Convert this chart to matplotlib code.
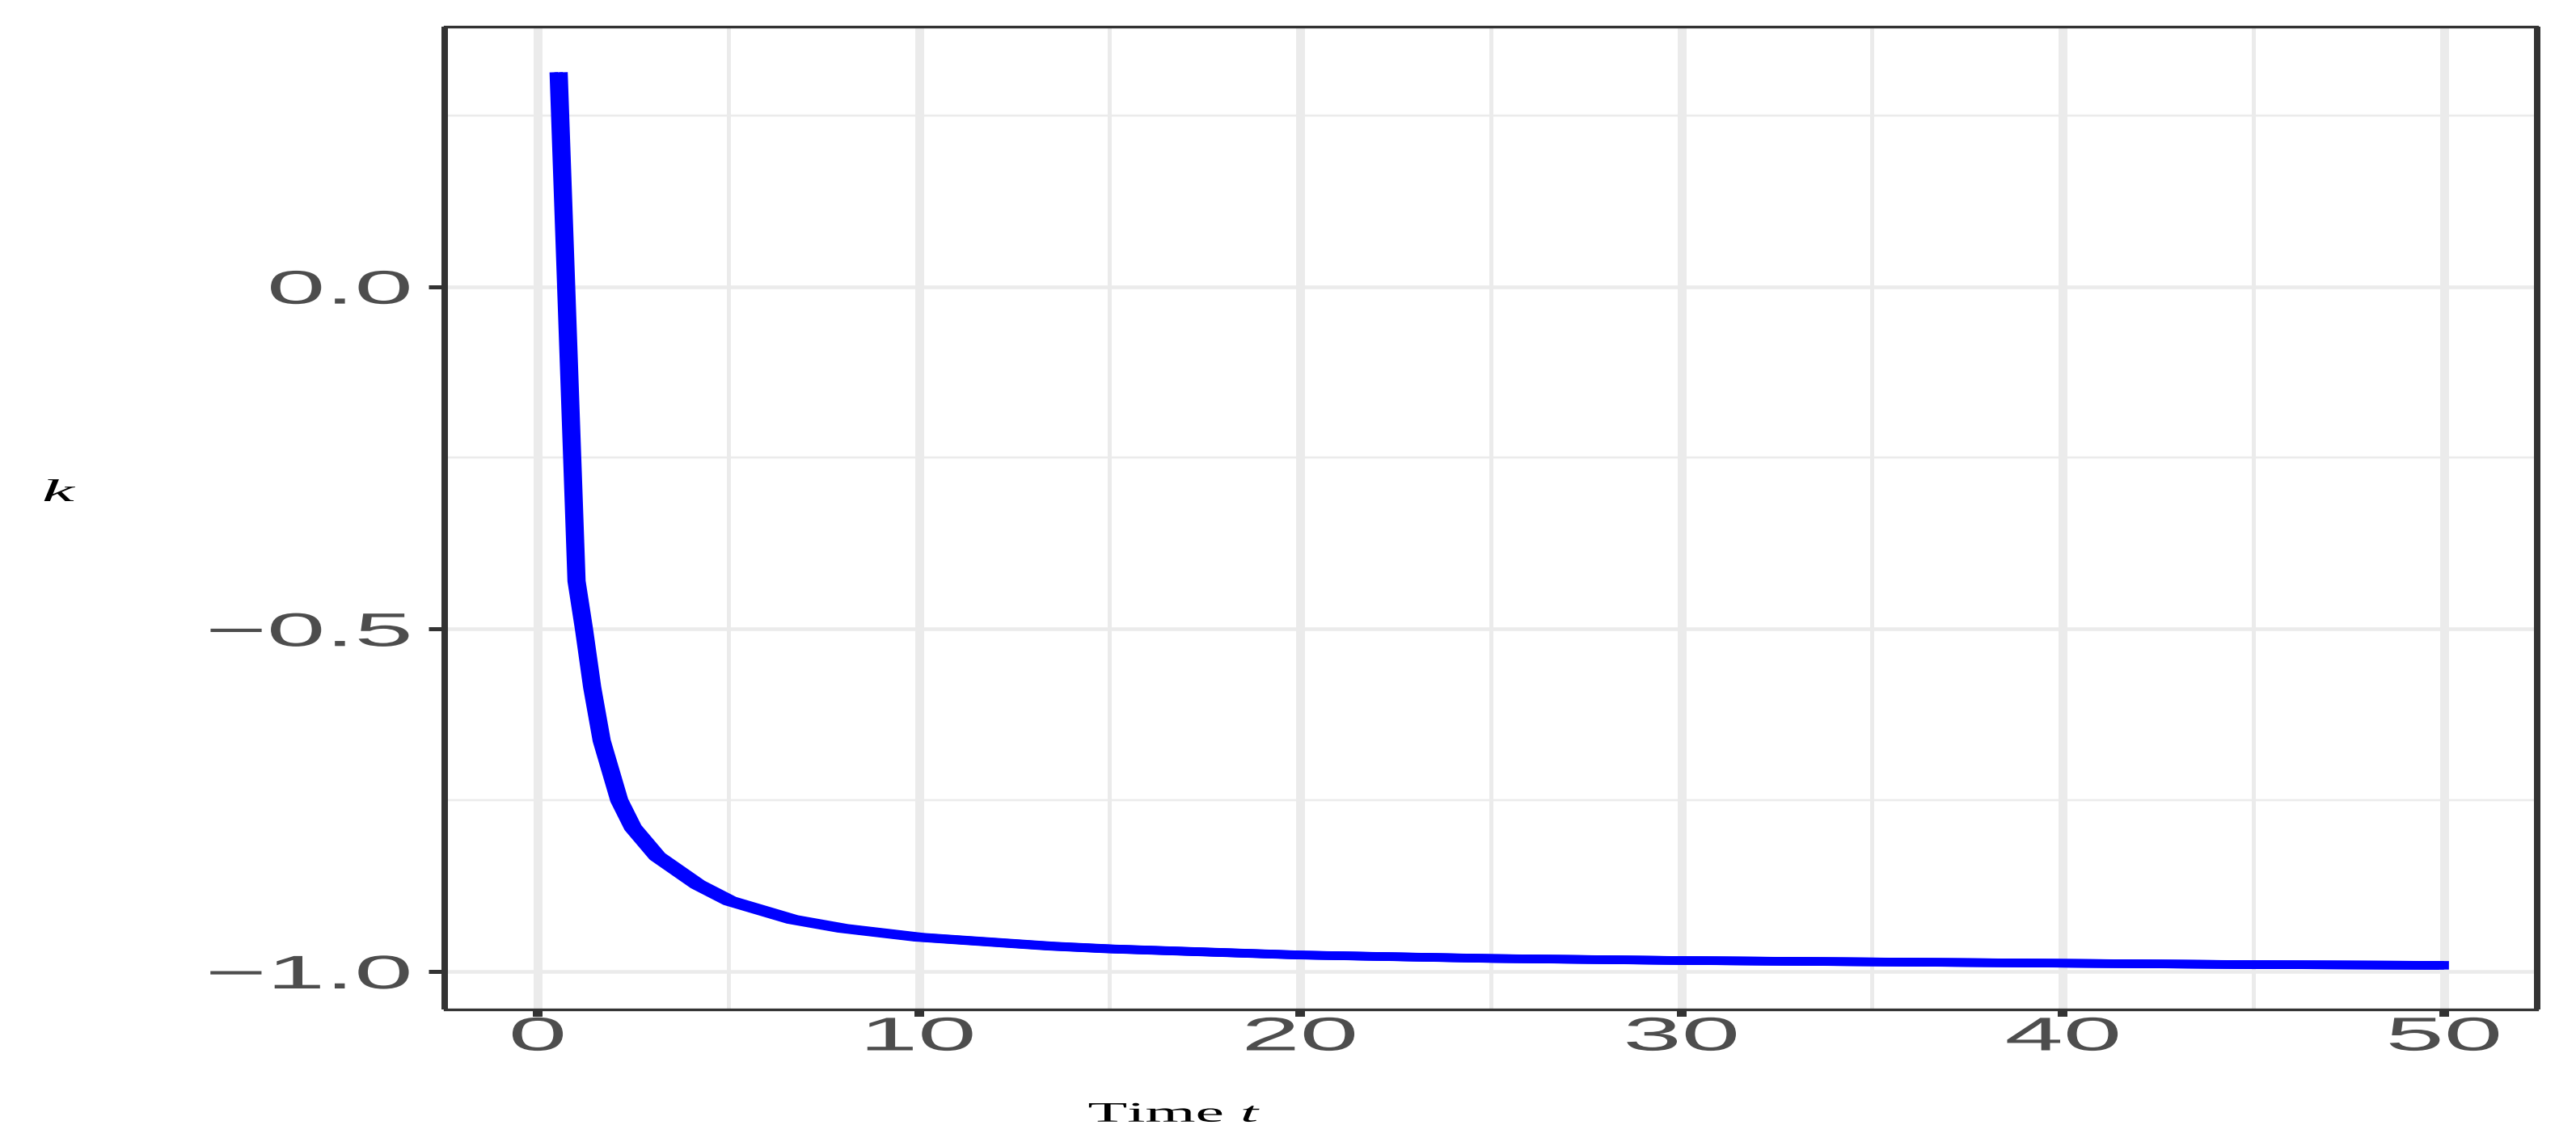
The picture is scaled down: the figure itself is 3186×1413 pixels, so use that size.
import numpy as np
import matplotlib
matplotlib.use("Agg")
import matplotlib.pyplot as plt
import matplotlib.transforms as mtransforms
from matplotlib.patheffects import AbstractPathEffect
from matplotlib.ticker import MultipleLocator

plt.rcParams.update({"mathtext.fontset": "custom",
                     "mathtext.rm": "Liberation Serif",
                     "mathtext.it": "Liberation Serif:italic"})

# values
time_t = [0.55, 1.02, 1.215, 1.43, 1.68, 2.14, 2.5, 3.14, 4.2, 5.04, 6.68, 8.0,
          10.0, 13.46, 15.0, 20.0, 25.0, 30.0, 35.0, 40.0, 45.0, 50.0]
k_vals = [0.313, -0.43, -0.5, -0.585, -0.663, -0.75, -0.79, -0.832, -0.873, -0.897,
          -0.924, -0.937, -0.95, -0.963, -0.967, -0.976, -0.981, -0.984, -0.986,
          -0.988, -0.99, -0.991]
x_ticks = [0, 10, 20, 30, 40, 50]
y_ticks = [-1.0, -0.5, 0.0]
y_ticklabels = ["\u22121.0", "\u22120.5", "0.0"]

DPI = 100
px = 72.0 / DPI  # one pixel in points
SX = 2.23        # the reference is stretched sideways by about this much


class HStretch(AbstractPathEffect):
    """widen drawn text sideways, about its left/right edge or centre"""
    def __init__(self, sx, anchor="center"):
        super().__init__()
        self.sx = sx
        self.anchor = anchor

    def draw_path(self, renderer, gc, tpath, affine, rgbFace=None):
        ext = tpath.get_extents(affine)
        x0 = {"left": ext.x0, "right": ext.x1,
              "center": 0.5 * (ext.x0 + ext.x1)}[self.anchor]
        st = mtransforms.Affine2D().translate(-x0, 0).scale(self.sx, 1).translate(x0, 0)
        renderer.draw_path(gc, tpath, affine + st, rgbFace)


fig = plt.figure(figsize=(31.86, 14.13), dpi=DPI)
ax = fig.add_axes([0.1726, 0.1164, 0.9849 - 0.1726, 0.9763 - 0.1164])

grid_col = "#EBEBEB"
dark = "#333333"

ax.set_xlim(-2.44, 52.44)
ax.set_ylim(-1.0549, 0.379)

ax.xaxis.set_minor_locator(MultipleLocator(5))
ax.yaxis.set_minor_locator(MultipleLocator(0.25))
ax.set_xticks(x_ticks)
ax.set_yticks(y_ticks)
ax.set_yticklabels(y_ticklabels)

ax.grid(True, axis="x", which="major", color=grid_col, lw=11 * px)
ax.grid(True, axis="x", which="minor", color=grid_col, lw=5 * px)
ax.grid(True, axis="y", which="major", color=grid_col, lw=4.5 * px)
ax.grid(True, axis="y", which="minor", color=grid_col, lw=2.5 * px)
ax.set_axisbelow(True)

# thicken the stroke horizontally, like the stretched original
for dx in (-6, 0, 6):
    tr = mtransforms.offset_copy(ax.transData, fig=fig, x=dx, y=0, units="dots")
    ax.plot(time_t, k_vals, color="#0000FF", lw=10.5 * px,
            solid_capstyle="butt", solid_joinstyle="round", transform=tr, zorder=3)

for side in ["left", "right"]:
    ax.spines[side].set_linewidth(8 * px)
    ax.spines[side].set_color(dark)
    ax.spines[side].set_capstyle("butt")
for side in ["top", "bottom"]:
    ax.spines[side].set_linewidth(3.3 * px)
    ax.spines[side].set_color(dark)
for s in ax.spines.values():
    s.set_zorder(4)

ax.tick_params(axis="x", which="major", length=9 * px, width=12 * px, color=dark,
               pad=0, labelsize=42, labelcolor="#4D4D4D")
ax.tick_params(axis="y", which="major", length=20 * px, width=5 * px, color=dark,
               pad=22 * px, labelsize=42, labelcolor="#4D4D4D")
ax.tick_params(which="minor", length=0)
for lab in ax.get_xticklabels():
    lab.set_family("Liberation Sans")
    lab.set_path_effects([HStretch(SX, "center")])
for lab in ax.get_yticklabels():
    lab.set_family("Liberation Sans")
    lab.set_path_effects([HStretch(SX, "right")])

fig.text(1453 / 3186, 1 - 1388 / 1413, "Time $\\mathit{t}$", ha="center", va="baseline",
         fontsize=25, family="Liberation Serif", color="black",
         path_effects=[HStretch(2.3, "center")])
fig.text(73 / 3186, 1 - 620 / 1413, "k", ha="center", va="baseline",
         fontsize=28, family="Liberation Serif", style="italic", color="black",
         path_effects=[HStretch(2.3, "center")])

fig.savefig("out.png", dpi=DPI, facecolor="white")
